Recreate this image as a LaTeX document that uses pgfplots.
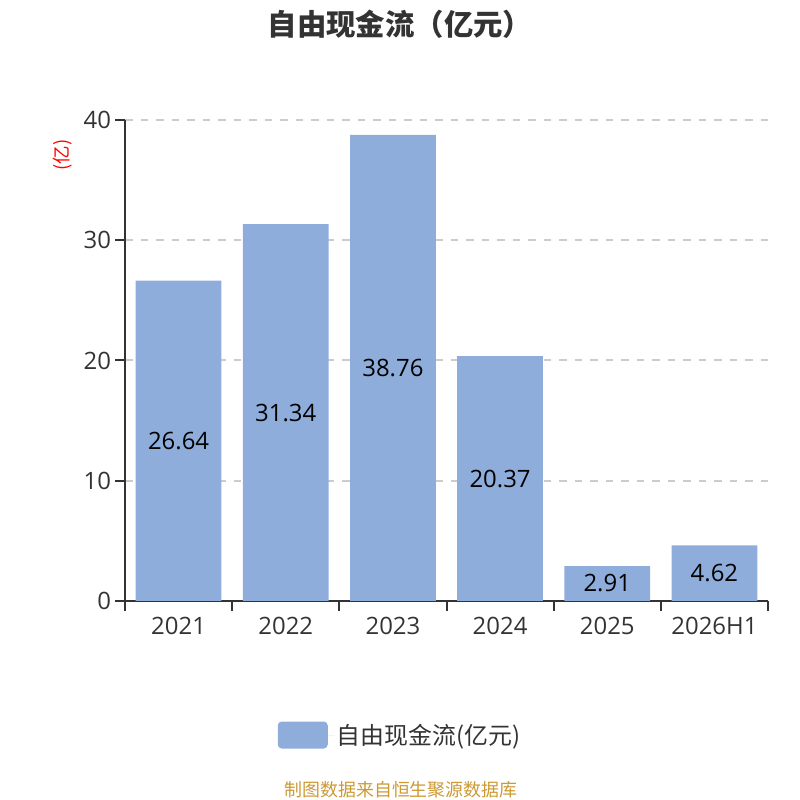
\documentclass[border=0pt]{standalone}
\usepackage{pgfplots}
\pgfplotsset{compat=1.18}
\usepackage{fontspec}
\setmainfont{Open Sans}
\newfontfamily\cjk{Noto Sans CJK SC}
\definecolor{barc}{RGB}{142,173,219}
\definecolor{axc}{RGB}{51,51,51}
\definecolor{gridc}{RGB}{204,204,204}
\definecolor{footc}{RGB}{204,153,51}
\begin{document}
\begin{tikzpicture}
\path[use as bounding box] (0,0) rectangle (800bp,800bp);
\begin{axis}[
  at={(125bp,199bp)}, anchor=south west,
  scale only axis, width=643bp, height=481bp,
  xmin=-0.5, xmax=5.5, ymin=0, ymax=40,
  axis x line*=bottom, axis y line*=left,
  axis line style={-, draw=axc, line width=2bp},
  every tick/.style={draw=axc, line width=2bp},
  tick align=outside, major tick length=9.5bp,
  xtick={-0.5,0.5,...,5.5},
  x tick label as interval,
  xticklabels={2021,2022,2023,2024,2025,2026H1},
  ytick={0,10,20,30,40},
  ymajorgrids,
  grid style={draw=gridc, line width=2bp, dash pattern=on 7.5bp off 8bp},
  tick label style={font=\fontsize{24}{26}\selectfont, text=axc},
  /pgf/number format/assume math mode=true,
  xticklabel style={yshift=-3bp},
  yticklabel style={xshift=-1bp},
  bar width=0.8,
  legend style={at={(axis description cs:0.4277,-0.2786)}, anchor=center, draw=none,
    font=\cjk\fontsize{24}{26}\selectfont, text=axc},
  legend image code/.code={\fill[barc, rounded corners=4bp] (0bp,-13.5bp) rectangle (50bp,13.5bp);
    \path (0bp,0bp) -- (57bp,0bp);},
]
\addplot[ybar, bar shift=0pt, fill=barc, draw=none] coordinates {
  (0,26.64) (1,31.34) (2,38.76) (3,20.37) (4,2.91) (5,4.62)};
\addlegendentry{自由现金流(亿元)}
\addplot[draw=none, mark=none, forget plot,
  point meta=explicit,
  nodes near coords={\pgfmathprintnumber[fixed,precision=2,zerofill]{\pgfplotspointmeta}},
  every node near coord/.style={anchor=center, text=black, font=\fontsize{24}{26}\selectfont},
] coordinates {
  (0,13.32) [26.64] (1,15.67) [31.34] (2,19.38) [38.76] (3,10.185) [20.37] (4,1.455) [2.91] (5,2.31) [4.62]};
\end{axis}
\node[font=\cjk\bfseries\fontsize{29.5}{33}\selectfont, text=axc] at (400bp,776bp) {自由现金流（亿元）};
\node[font=\cjk\fontsize{18.5}{20}\selectfont, text=red, rotate=90] at (63bp,155bp) {};
\node[font=\cjk\fontsize{18.5}{20}\selectfont, text=red, rotate=90] at (63bp,645bp) {(亿)};
\node[font=\cjk\fontsize{18}{20}\selectfont, text=footc] at (401bp,10bp) {制图数据来自恒生聚源数据库};
\end{tikzpicture}
\end{document}
